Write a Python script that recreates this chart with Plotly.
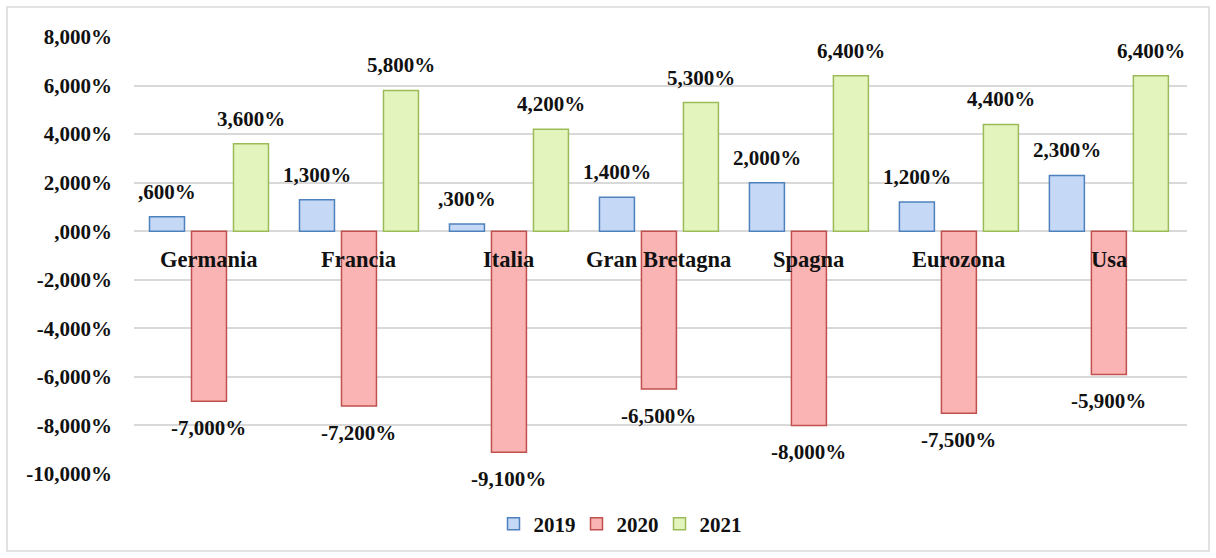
import plotly.graph_objects as go

categories = ["Germania", "Francia", "Italia", "Gran Bretagna", "Spagna", "Eurozona", "Usa"]
series_names = ["2019", "2020", "2021"]
v2019 = [0.6, 1.3, 0.3, 1.4, 2.0, 1.2, 2.3]
v2020 = [-7.0, -7.2, -9.1, -6.5, -8.0, -7.5, -5.9]
v2021 = [3.6, 5.8, 4.2, 5.3, 6.4, 4.4, 6.4]
tick_vals = [8, 6, 4, 2, 0, -2, -4, -6, -8, -10]
tick_text = ["8,000%", "6,000%", "4,000%", "2,000%", ",000%", "-2,000%", "-4,000%", "-6,000%", "-8,000%", "-10,000%"]

FONT = "Liberation Serif"
fills = ["#c5d8f6", "#fab4b3", "#e3f5bd"]
lines = ["#4f81bd", "#c0504d", "#9bbb59"]


def fmt(v):
    s = f"{abs(v):.3f}".replace(".", ",")
    if s.startswith("0"):
        s = s[1:]
    return ("-" if v < 0 else "") + s + "%"


W, H = 1216, 558
ml, mr, mt, mb = 134, 29, 37, 84
pw, ph = W - ml - mr, H - mt - mb
f = dict(family=FONT, size=21, color="#111111", weight="bold")
fcat = dict(family=FONT, size=22.5, color="#111111", weight="bold")

fig = go.Figure()
all_vals = [v2019, v2020, v2021]
for name, vals, fc, lc in zip(series_names, all_vals, fills, lines):
    fig.add_trace(go.Bar(
        x=categories, y=vals, name=name,
        marker=dict(color=fc, line=dict(color=lc, width=1.5)),
    ))

bargap = 0.16
slot = pw / len(categories) * (1 - bargap) / 3
annotations = []
for i, vals in enumerate(all_vals):
    for c, v in zip(categories, vals):
        annotations.append(dict(
            x=c, y=v, xref="x", yref="y", text=fmt(v), showarrow=False,
            xshift=(i - 1) * slot, yshift=25 if v >= 0 else -27,
            yanchor="middle", font=f,
        ))
for c in categories:
    annotations.append(dict(
        x=c, y=0, xref="x", yref="y", text=c, showarrow=False,
        yshift=-28, yanchor="middle", font=fcat,
    ))

fig.update_layout(
    width=W, height=H,
    margin=dict(l=ml, r=mr, t=mt, b=mb),
    paper_bgcolor="white", plot_bgcolor="white",
    barmode="group", bargap=bargap, bargroupgap=0.167,
    font=f,
    xaxis=dict(showticklabels=False, showgrid=False, zeroline=False, showline=False, ticks=""),
    yaxis=dict(range=[-10, 8], tickvals=tick_vals, ticktext=tick_text,
               showgrid=True, gridcolor="#d9d9d9", gridwidth=1.5,
               zeroline=True, zerolinecolor="#d9d9d9", zerolinewidth=1.5,
               showline=False, ticks="", ticklabelstandoff=21,
               tickfont=f),
    legend=dict(orientation="h", x=(618 - ml) / pw, xanchor="center",
                y=(H - mb - 524) / ph, yanchor="middle",
                font=f, itemwidth=30, traceorder="normal",
                entrywidth=38, entrywidthmode="pixels"),
    annotations=annotations,
    shapes=[dict(type="rect", xref="paper", yref="paper",
                 x0=(7 - ml) / pw, x1=(1209 - ml) / pw,
                 y0=(H - mb - 551) / ph, y1=(H - mb - 7) / ph,
                 line=dict(color="#d9d9d9", width=1.5), fillcolor="rgba(0,0,0,0)")],
)

fig.write_html("out.html", config={"displayModeBar": False},
               post_script="document.body.style.margin='0';")
